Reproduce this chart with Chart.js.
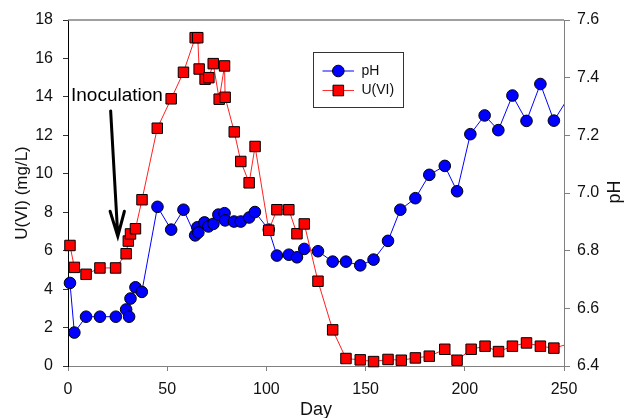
<!DOCTYPE html>
<html>
<head>
<meta charset="utf-8">
<script src="https://cdn.jsdelivr.net/npm/chart.js@4.4.0/dist/chart.umd.min.js"></script>
<style>
    html, body { margin: 0; padding: 0; background: #fff; }
    #wrap { width: 626px; height: 418px; }
</style>
</head>
<body>
<div id="wrap"><canvas id="chart" width="626" height="418"></canvas></div>
<script>
// U(VI) (mg/L) readings, left axis
const uDays = [1, 3.2, 9.1, 16.1, 24, 29.3, 30.4, 31.5, 34, 37.3,
    45, 52, 58.2, 64.1, 65.4, 66.1, 69.1, 71, 73.2, 76.2,
    78.9, 79.2, 83.8, 87.1, 91.3, 94.3, 101.2, 105.3, 111.3, 115.4,
    119.1, 126, 133.4, 140.1, 147.3, 154, 161.3, 168, 175.1, 182.1,
    189.9, 196.1, 203.2, 210.2, 217, 224, 231.1, 238.1, 244.9, 254];
const uValues = [6.27, 5.13, 4.77, 5.1, 5.1, 5.84, 6.5, 6.87, 7.14, 8.65,
    12.37, 13.9, 15.28, 17.08, 17.08, 15.45, 14.92, 15.0, 15.73, 13.88,
    15.61, 13.98, 12.18, 10.64, 9.53, 11.42, 7.06, 8.13, 8.13, 6.88,
    7.39, 4.41, 1.88, 0.39, 0.32, 0.23, 0.34, 0.3, 0.42, 0.51,
    0.87, 0.3, 0.87, 1.03, 0.75, 1.03, 1.2, 1.03, 0.93, 1.2];

// pH readings, right axis
const phDays = [1, 3.2, 9.1, 16.1, 24.1, 29.3, 30.8, 31.5, 34, 37.2,
    45.1, 52, 58.2, 64.1, 65.2, 65.7, 68.8, 70.8, 73.3, 75.8,
    78.9, 79.2, 83.7, 87.1, 91.3, 94.2, 101.2, 105.3, 111.3, 115.4,
    119.1, 126, 133.4, 140.1, 147.3, 154, 161.3, 167.5, 175.1, 182.1,
    189.9, 196.1, 202.8, 210, 216.9, 224, 231.1, 238.1, 244.9, 256];
const phValues = [6.688, 6.516, 6.571, 6.571, 6.571, 6.596, 6.571, 6.634, 6.673, 6.657,
    6.952, 6.873, 6.942, 6.853, 6.881, 6.863, 6.898, 6.884, 6.893, 6.925,
    6.930, 6.905, 6.901, 6.901, 6.915, 6.934, 6.873, 6.783, 6.786, 6.777,
    6.806, 6.798, 6.762, 6.762, 6.749, 6.769, 6.834, 6.942, 6.982, 7.063,
    7.094, 7.006, 7.204, 7.269, 7.218, 7.338, 7.250, 7.378, 7.251, 7.372];

const xTicks = [0, 50, 100, 150, 200, 250];
const uTicks = [0, 2, 4, 6, 8, 10, 12, 14, 16, 18];
const phTicks = [6.4, 6.6, 6.8, 7.0, 7.2, 7.4, 7.6];

// arrow annotation (day, U)
const arrowTail = [21.5, 13.27];
const arrowTip = [25.1, 6.75];
const noteText = 'Inoculation';
const notePos = [1.5, 13.8];

const FONT = "Arial, 'Liberation Sans', sans-serif";
Chart.defaults.font.family = FONT;
Chart.defaults.color = '#111';

const toPoints = (xs, ys) => xs.map((x, i) => ({x: x, y: ys[i]}));

// 框线、箭头、图例、右侧标题
const extrasPlugin = {
    id: 'extras',
    afterDraw(chart) {
        const ctx = chart.ctx;
        const area = chart.chartArea;
        const xs = chart.scales.x;
        const ys = chart.scales.y;
        ctx.save();

        // top frame line
        ctx.strokeStyle = '#808080';
        ctx.lineWidth = 1.5;
        ctx.beginPath();
        ctx.moveTo(area.left, area.top);
        ctx.lineTo(area.right, area.top);
        ctx.stroke();

        // arrow
        const tx = xs.getPixelForValue(arrowTail[0]), ty = ys.getPixelForValue(arrowTail[1]);
        const hx = xs.getPixelForValue(arrowTip[0]), hy = ys.getPixelForValue(arrowTip[1]);
        ctx.strokeStyle = '#000';
        ctx.lineWidth = 3;
        ctx.lineCap = 'round';
        ctx.beginPath();
        ctx.moveTo(tx, ty);
        ctx.lineTo(hx, hy);
        ctx.moveTo(hx - 7.7, hy - 25);
        ctx.lineTo(hx, hy);
        ctx.lineTo(hx + 6.6, hy - 25);
        ctx.stroke();

        ctx.fillStyle = '#000';
        ctx.font = '19px ' + FONT;
        ctx.textAlign = 'left';
        ctx.textBaseline = 'alphabetic';
        ctx.fillText(noteText, xs.getPixelForValue(notePos[0]), ys.getPixelForValue(notePos[1]));

        // legend box
        ctx.lineCap = 'butt';
        ctx.strokeStyle = '#333';
        ctx.lineWidth = 1;
        ctx.strokeRect(313.5, 52.5, 90, 55);
        const items = [
            {label: 'pH', line: '#0000ff', fill: '#0000ff', shape: 'circle', y: 71},
            {label: 'U(VI)', line: '#ff3030', fill: '#ff0000', shape: 'rect', y: 90.5}
        ];
        ctx.font = '14px ' + FONT;
        ctx.textBaseline = 'middle';
        items.forEach(it => {
            ctx.strokeStyle = it.line;
            ctx.beginPath();
            ctx.moveTo(322.5, it.y);
            ctx.lineTo(354, it.y);
            ctx.stroke();
            ctx.fillStyle = it.fill;
            ctx.strokeStyle = '#000';
            ctx.beginPath();
            if (it.shape === 'circle') {
                ctx.arc(338.3, it.y, 5.8, 0, Math.PI * 2);
            } else {
                ctx.rect(333, it.y - 5.3, 10.6, 10.6);
            }
            ctx.fill();
            ctx.stroke();
            ctx.fillStyle = '#111';
            ctx.fillText(it.label, 361.5, it.y);
        });

        // right axis title (reads bottom to top)
        ctx.font = '18px ' + FONT;
        ctx.textAlign = 'center';
        ctx.textBaseline = 'alphabetic';
        ctx.translate(619.6, 192);
        ctx.rotate(-Math.PI / 2);
        ctx.fillStyle = '#111';
        ctx.fillText('pH', 0, 0);
        ctx.restore();
    }
};

const config = {
    type: 'line',
    data: {
        datasets: [
            {
                label: 'U(VI)',
                data: toPoints(uDays, uValues),
                yAxisID: 'y',
                borderColor: '#ff2020',
                borderWidth: 1,
                pointStyle: 'rect',
                pointRadius: 7.4,
                pointBackgroundColor: '#ff0000',
                pointBorderColor: '#000',
                pointBorderWidth: 1,
                tension: 0,
                clip: {left: 10, top: 10, right: 0, bottom: 10}
            },
            {
                label: 'pH',
                data: toPoints(phDays, phValues),
                yAxisID: 'y2',
                borderColor: '#0000ff',
                borderWidth: 1,
                pointStyle: 'circle',
                pointRadius: 5.8,
                pointBackgroundColor: '#0000ff',
                pointBorderColor: '#000',
                pointBorderWidth: 1,
                tension: 0,
                clip: {left: 10, top: 10, right: 0, bottom: 10}
            }
        ]
    },
    options: {
        responsive: false,
        animation: false,
        layout: { padding: { top: 20 } },
        plugins: {
            legend: { display: false },
            tooltip: { enabled: false }
        },
        scales: {
            x: {
                type: 'linear',
                min: 0,
                max: 250,
                afterBuildTicks: s => { s.ticks = xTicks.map(v => ({value: v})); },
                afterFit: s => { s.height = 52; },
                ticks: { font: { size: 16 }, padding: 8.5, color: '#111' },
                grid: { drawOnChartArea: false, tickLength: 5, tickColor: '#808080' },
                border: { color: '#808080', width: 1 },
                title: {
                    display: true,
                    text: 'Day',
                    color: '#111',
                    font: { size: 18, lineHeight: 0.9 },
                    padding: 0
                }
            },
            y: {
                position: 'left',
                min: 0,
                max: 18,
                afterBuildTicks: s => { s.ticks = uTicks.map(v => ({value: v})); },
                afterFit: s => { s.width = 68; },
                ticks: { font: { size: 16 }, padding: 10, color: '#111' },
                grid: { drawOnChartArea: false, tickLength: 5, tickColor: '#333' },
                border: { color: '#000', width: 1 },
                title: {
                    display: true,
                    text: 'U(VI) (mg/L)',
                    color: '#111',
                    font: { size: 17 },
                    padding: { top: 12, bottom: 0 }
                }
            },
            y2: {
                position: 'right',
                min: 6.4,
                max: 7.6,
                afterBuildTicks: s => { s.ticks = phTicks.map(v => ({value: v})); },
                afterFit: s => { s.width = 62; },
                ticks: {
                    font: { size: 16 },
                    padding: 7,
                    color: '#111',
                    callback: v => Number(v).toFixed(1)
                },
                grid: { drawOnChartArea: false, tickLength: 6, tickColor: '#808080' },
                border: { color: '#808080', width: 1 }
            }
        }
    },
    plugins: [extrasPlugin]
};

new Chart(document.getElementById('chart'), config);
</script>
</body>
</html>
